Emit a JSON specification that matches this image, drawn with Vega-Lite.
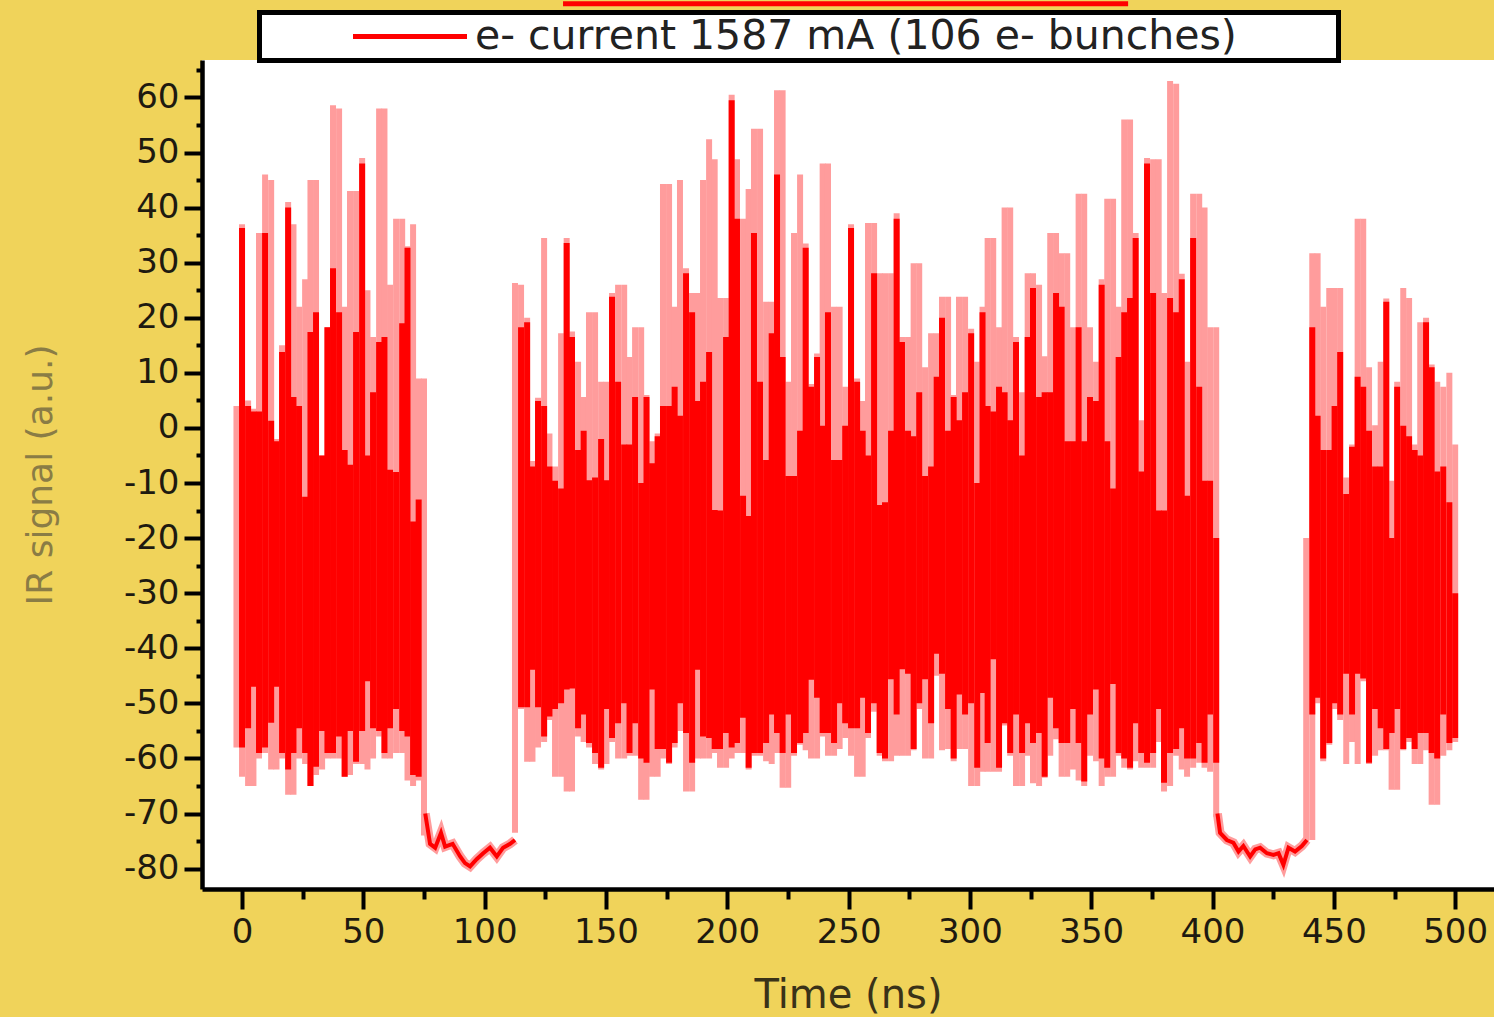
{
"$schema": "https://vega.github.io/schema/vega-lite/v6.json",
"width": 1292,
"height": 829,
"autosize": {"type": "none"},
"padding": {"left": 202, "top": 60, "right": 0, "bottom": 128},
"background": "#F0D35A",
"config": {
  "view": {"fill": "white", "stroke": null},
  "axis": {"grid": false, "domainColor": "black", "domainWidth": 4.5, "tickColor": "black", "tickWidth": 4, "labelFont": "DejaVu Sans", "labelFontSize": 34, "labelColor": "#1e1a10", "titleFont": "DejaVu Sans", "titleFontWeight": "normal"}
},
"datasets": {
"halo": [
{"t":-2.3,"lo":-58,"hi":4},{"t":0,"lo":-63.3,"hi":37},{"t":2.5,"lo":-65,"hi":5},{"t":4.7,"lo":-65,"hi":3.5},{"t":7,"lo":-60,"hi":35.4},{"t":9.5,"lo":-59,"hi":46},{"t":12,"lo":-62,"hi":45},{"t":14.2,"lo":-62,"hi":-2},{"t":16.5,"lo":-60,"hi":15},{"t":19,"lo":-66.6,"hi":41},{"t":21.2,"lo":-66.6,"hi":37},{"t":23.5,"lo":-60,"hi":22},{"t":26,"lo":-61,"hi":27},{"t":28.2,"lo":-65,"hi":45},{"t":30.5,"lo":-63,"hi":45},{"t":33,"lo":-62,"hi":-5},{"t":35.2,"lo":-60,"hi":18.3},{"t":37.5,"lo":-60,"hi":58.6},{"t":40,"lo":-60,"hi":58},{"t":42.3,"lo":-63.3,"hi":22},{"t":44.5,"lo":-63,"hi":43},{"t":47,"lo":-61,"hi":43},{"t":49.5,"lo":-61,"hi":49},{"t":51.7,"lo":-62,"hi":25},{"t":54,"lo":-60,"hi":16.5},{"t":56.5,"lo":-56,"hi":58},{"t":58.7,"lo":-60,"hi":58},{"t":61,"lo":-60,"hi":26},{"t":63.5,"lo":-59,"hi":38},{"t":66,"lo":-59,"hi":38},{"t":68.2,"lo":-64,"hi":33},{"t":70.5,"lo":-65,"hi":37},{"t":72.8,"lo":-64,"hi":9},{"t":75,"lo":-74,"hi":9},
{"t":112.5,"lo":-73.5,"hi":26.3},{"t":115,"lo":-51,"hi":26},{"t":117.5,"lo":-60.6,"hi":20},{"t":119.7,"lo":-60.6,"hi":-6},{"t":122,"lo":-58,"hi":5.5},{"t":124.5,"lo":-57,"hi":34.5},{"t":126.7,"lo":-53,"hi":-1},{"t":129,"lo":-63.3,"hi":-7},{"t":131.5,"lo":-63.3,"hi":17.2},{"t":133.8,"lo":-66,"hi":34.5},{"t":136,"lo":-66,"hi":17.5},{"t":138.5,"lo":-56,"hi":12},{"t":140.8,"lo":-57,"hi":5.6},{"t":143,"lo":-58,"hi":21},{"t":145.5,"lo":-61,"hi":21},{"t":148,"lo":-62,"hi":8.4},{"t":150.2,"lo":-61,"hi":8.4},{"t":152.5,"lo":-57,"hi":24.5},{"t":155,"lo":-60,"hi":26},{"t":157.5,"lo":-60,"hi":26},{"t":159.7,"lo":-59.5,"hi":12.9},{"t":162,"lo":-59.5,"hi":18.3},{"t":164.5,"lo":-67.5,"hi":18.3},{"t":166.7,"lo":-67.5,"hi":6},{"t":169,"lo":-63.3,"hi":-2.4},{"t":171.3,"lo":-63.3,"hi":-1},{"t":173.5,"lo":-60,"hi":44.3},{"t":176,"lo":-61,"hi":44.3},{"t":178.3,"lo":-58,"hi":22},{"t":180.5,"lo":-55,"hi":45},{"t":183,"lo":-66,"hi":29},{"t":185.5,"lo":-66,"hi":24.5},{"t":187.8,"lo":-60,"hi":24.5},{"t":190,"lo":-60,"hi":45},{"t":192.5,"lo":-60,"hi":52.4},{"t":194.8,"lo":-59,"hi":48.8},{"t":197,"lo":-61.7,"hi":23.6},{"t":199.5,"lo":-61.7,"hi":23.6},{"t":201.8,"lo":-60,"hi":60.5},{"t":204,"lo":-59,"hi":48.8},{"t":206.5,"lo":-59,"hi":38},{"t":208.8,"lo":-62,"hi":43.4},{"t":211,"lo":-59.5,"hi":54.3},{"t":213.5,"lo":-59.5,"hi":54.3},{"t":216,"lo":-60.5,"hi":22.9},{"t":218.3,"lo":-61,"hi":22.9},{"t":220.5,"lo":-59,"hi":61.3},{"t":222.8,"lo":-65.3,"hi":61.3},{"t":225.1,"lo":-65.3,"hi":8.4},{"t":227.5,"lo":-59.5,"hi":35.4},{"t":230,"lo":-57.5,"hi":46},{"t":232.3,"lo":-58.5,"hi":33.5},{"t":234.5,"lo":-60,"hi":8},{"t":237,"lo":-60,"hi":13.5},{"t":239.3,"lo":-56,"hi":48},{"t":241.5,"lo":-59.5,"hi":48},{"t":244,"lo":-59.5,"hi":22},{"t":246.3,"lo":-58.3,"hi":22},{"t":248.6,"lo":-56.3,"hi":7.5},{"t":251,"lo":-59.5,"hi":37},{"t":253.5,"lo":-63.3,"hi":9},{"t":255.8,"lo":-63.3,"hi":4.9},{"t":258,"lo":-56.3,"hi":37.2},{"t":260.5,"lo":-51.5,"hi":37.2},{"t":262.8,"lo":-59.5,"hi":28.1},{"t":265,"lo":-60.5,"hi":28.1},{"t":267.5,"lo":-60.5,"hi":28.1},{"t":269.8,"lo":-59.5,"hi":39},{"t":272,"lo":-59.5,"hi":16.5},{"t":274.5,"lo":-59.5,"hi":16.5},{"t":276.8,"lo":-58.5,"hi":29.9},{"t":279.1,"lo":-51,"hi":29.9},{"t":281.5,"lo":-60,"hi":11},{"t":284,"lo":-60,"hi":17.2},{"t":286.3,"lo":-45,"hi":17.2},{"t":288.5,"lo":-58.5,"hi":23.8},{"t":291,"lo":-58.3,"hi":23.8},{"t":293.3,"lo":-60.5,"hi":6},{"t":295.5,"lo":-58.3,"hi":23.8},{"t":298,"lo":-58.3,"hi":23.8},{"t":300.5,"lo":-65,"hi":18},{"t":303,"lo":-65,"hi":12},
{"t":305.2,"lo":-62.4,"hi":22},{"t":307.3,"lo":-62.4,"hi":34.5},{"t":309.6,"lo":-62.4,"hi":34.5},{"t":312,"lo":-62.4,"hi":18.3},{"t":314.3,"lo":-54,"hi":40},{"t":316.6,"lo":-59.5,"hi":40},{"t":319,"lo":-65,"hi":16.5},{"t":321.5,"lo":-65,"hi":6.5},{"t":323.8,"lo":-59.5,"hi":28.1},{"t":326,"lo":-64.5,"hi":28.1},{"t":328.5,"lo":-65,"hi":26},{"t":330.8,"lo":-63.5,"hi":13},{"t":333.1,"lo":-59.5,"hi":35.4},{"t":335.5,"lo":-56.5,"hi":35.4},{"t":337.8,"lo":-63.3,"hi":31.7},{"t":340.1,"lo":-63.3,"hi":31.7},{"t":342.5,"lo":-62,"hi":18.3},{"t":344.8,"lo":-64,"hi":42.5},{"t":347.1,"lo":-65,"hi":42.5},{"t":349.5,"lo":-59.5,"hi":18.3},{"t":352,"lo":-60.5,"hi":12},{"t":354.3,"lo":-65,"hi":27},{"t":356.6,"lo":-63.3,"hi":41.6},{"t":359,"lo":-63.3,"hi":41.6},{"t":361.3,"lo":-59.5,"hi":22},{"t":363.6,"lo":-61.7,"hi":56},{"t":366,"lo":-62,"hi":56},{"t":368.3,"lo":-60.5,"hi":35.4},{"t":370.6,"lo":-61.7,"hi":1.4},{"t":373,"lo":-61.7,"hi":49},{"t":375.5,"lo":-61.7,"hi":48.8},{"t":377.8,"lo":-57,"hi":48.8},{"t":380,"lo":-66,"hi":24.5},{"t":382.5,"lo":-65,"hi":63},{"t":385,"lo":-59.5,"hi":62.5},{"t":387.3,"lo":-62,"hi":28},{"t":389.5,"lo":-63.3,"hi":12},{"t":392,"lo":-61.7,"hi":42.5},{"t":394.5,"lo":-60.8,"hi":42.5},{"t":396.7,"lo":-61.7,"hi":40},{"t":399,"lo":-62.4,"hi":18.3},{"t":401.5,"lo":-70.6,"hi":18.3},
{"t":438.6,"lo":-75,"hi":-20},
{"t":441.1,"lo":-74.8,"hi":31.7},{"t":443.3,"lo":-50,"hi":31.7},{"t":445.6,"lo":-60.5,"hi":22},{"t":448.1,"lo":-57.5,"hi":25.4},{"t":450.3,"lo":-51,"hi":25.4},{"t":452.6,"lo":-53,"hi":25.4},{"t":455.1,"lo":-61,"hi":-9},{"t":457.5,"lo":-57,"hi":-3},{"t":459.8,"lo":-61,"hi":38},{"t":462.1,"lo":-46,"hi":38},{"t":464.5,"lo":-61,"hi":11},{"t":467,"lo":-59.5,"hi":0.5},{"t":469.3,"lo":-58.5,"hi":12},{"t":471.6,"lo":-58.5,"hi":23.5},{"t":473.8,"lo":-65.7,"hi":-9.6},{"t":476.1,"lo":-65.7,"hi":8.4},{"t":478.6,"lo":-58.5,"hi":25.4},{"t":481,"lo":-57,"hi":23.6},{"t":483.3,"lo":-61,"hi":-3},{"t":485.6,"lo":-61,"hi":19.2},{"t":488,"lo":-58.5,"hi":20},{"t":490.3,"lo":-68.4,"hi":11.5},{"t":492.6,"lo":-68.4,"hi":8.4},{"t":495.1,"lo":-59.5,"hi":7.5},{"t":497.6,"lo":-58.5,"hi":10},{"t":500,"lo":-57,"hi":-3}
],
"core": [
{"t":0,"lo":-58,"hi":36.3},{"t":2.5,"lo":-54.5,"hi":4},{"t":4.7,"lo":-47,"hi":3},{"t":7,"lo":-59,"hi":3},{"t":9.5,"lo":-58,"hi":35.4},{"t":12,"lo":-53.5,"hi":1.3},{"t":14.2,"lo":-47,"hi":-2.4},{"t":16.5,"lo":-59,"hi":13.8},{"t":19,"lo":-62,"hi":40},{"t":21.2,"lo":-59,"hi":5.6},{"t":23.5,"lo":-54.5,"hi":4},{"t":26,"lo":-59,"hi":-12.5},{"t":28.2,"lo":-65,"hi":17.4},{"t":30.5,"lo":-61.5,"hi":21},{"t":33,"lo":-55,"hi":-5},{"t":35.2,"lo":-59,"hi":18.3},{"t":37.5,"lo":-59,"hi":29},{"t":40,"lo":-56,"hi":21},{"t":42.3,"lo":-63.3,"hi":-4},{"t":44.5,"lo":-55,"hi":-6.7},{"t":47,"lo":-60.6,"hi":17.4},{"t":49.5,"lo":-55,"hi":48},{"t":51.7,"lo":-46,"hi":-5},{"t":54,"lo":-54.5,"hi":6.5},{"t":56.5,"lo":-55,"hi":15.6},{"t":58.7,"lo":-59,"hi":16.5},{"t":61,"lo":-54.5,"hi":-7.6},{"t":63.5,"lo":-51,"hi":-8},{"t":66,"lo":-55,"hi":19},{"t":68.2,"lo":-56,"hi":32.7},{"t":70.5,"lo":-63,"hi":-17},{"t":72.8,"lo":-63.3,"hi":-13},
{"t":115,"lo":-50.7,"hi":18.3},{"t":117.5,"lo":-50.7,"hi":19.2},{"t":119.7,"lo":-43.9,"hi":-7},{"t":122,"lo":-50.7,"hi":4.9},{"t":124.5,"lo":-56,"hi":4},{"t":126.7,"lo":-52.4,"hi":-7},{"t":129,"lo":-51,"hi":-9.6},{"t":131.5,"lo":-50,"hi":-11},{"t":133.8,"lo":-47.5,"hi":33.6},{"t":136,"lo":-47.3,"hi":16.5},{"t":138.5,"lo":-54.5,"hi":-4},{"t":140.8,"lo":-52,"hi":-0.5},{"t":143,"lo":-57.2,"hi":-9.5},{"t":145.5,"lo":-59,"hi":-9},{"t":148,"lo":-61.7,"hi":-2},{"t":150.2,"lo":-51,"hi":-9.5},{"t":152.5,"lo":-56.3,"hi":23.8},{"t":155,"lo":-53.6,"hi":8.4},{"t":157.5,"lo":-50,"hi":-3},{"t":159.7,"lo":-59,"hi":-3},{"t":162,"lo":-53.6,"hi":5.6},{"t":164.5,"lo":-60,"hi":-10},{"t":166.7,"lo":-60.8,"hi":5.6},{"t":169,"lo":-47.5,"hi":-6.4},{"t":171.3,"lo":-58.3,"hi":-1.5},{"t":173.5,"lo":-58.3,"hi":4},{"t":176,"lo":-60.8,"hi":4},{"t":178.3,"lo":-57.2,"hi":7.5},{"t":180.5,"lo":-50,"hi":2.2},{"t":183,"lo":-55.4,"hi":28.1},{"t":185.5,"lo":-60.8,"hi":21},{"t":187.8,"lo":-43.9,"hi":4.9},{"t":190,"lo":-56,"hi":8.4},{"t":192.5,"lo":-56.3,"hi":13.8},{"t":194.8,"lo":-58.3,"hi":-14.9},{"t":197,"lo":-58.3,"hi":-15},{"t":199.5,"lo":-55.4,"hi":16.5},{"t":201.8,"lo":-58,"hi":59.5},{"t":204,"lo":-57.2,"hi":38},{"t":206.5,"lo":-52.6,"hi":-12.3},{"t":208.8,"lo":-61.7,"hi":-16},{"t":211,"lo":-59,"hi":35.4},{"t":213.5,"lo":-59,"hi":8.4},{"t":216,"lo":-57.2,"hi":-5.8},{"t":218.3,"lo":-52,"hi":17.2},{"t":220.5,"lo":-55.4,"hi":46},{"t":222.8,"lo":-59,"hi":12.9},{"t":225.1,"lo":-52,"hi":-8.7},{"t":227.5,"lo":-59,"hi":-8.7},{"t":230,"lo":-57.2,"hi":-0.5},{"t":232.3,"lo":-55.4,"hi":32.7},{"t":234.5,"lo":-45.7,"hi":7.5},{"t":237,"lo":-49,"hi":12.9},{"t":239.3,"lo":-55.4,"hi":0.4},{"t":241.5,"lo":-55.4,"hi":21},{"t":244,"lo":-57.2,"hi":-5.8},{"t":246.3,"lo":-50,"hi":-5.8},{"t":248.6,"lo":-53.6,"hi":0.4},{"t":251,"lo":-54.5,"hi":36.3},{"t":253.5,"lo":-54.5,"hi":8.4},{"t":255.8,"lo":-49,"hi":-0.5},{"t":258,"lo":-55.4,"hi":-5},{"t":260.5,"lo":-50,"hi":28.1},{"t":262.8,"lo":-59,"hi":-14},{"t":265,"lo":-60,"hi":-13.5},{"t":267.5,"lo":-45.6,"hi":-0.5},{"t":269.8,"lo":-52,"hi":38},{"t":272,"lo":-43.8,"hi":15.6},{"t":274.5,"lo":-44.6,"hi":-0.5},{"t":276.8,"lo":-58.3,"hi":-1.5},{"t":279.1,"lo":-50,"hi":6.5},{"t":281.5,"lo":-45.6,"hi":-8.7},{"t":284,"lo":-53.6,"hi":-7},{"t":286.3,"lo":-41,"hi":9.3},{"t":288.5,"lo":-44.6,"hi":20},{"t":291,"lo":-51,"hi":-0.5},{"t":293.3,"lo":-60,"hi":5.6},{"t":295.5,"lo":-48.4,"hi":1.4},{"t":298,"lo":-52,"hi":6.5},{"t":300.5,"lo":-50,"hi":17.2},{"t":303,"lo":-61.7,"hi":-10},
{"t":305.2,"lo":-48.1,"hi":21},{"t":307.3,"lo":-57.2,"hi":4},{"t":309.6,"lo":-42,"hi":3},{"t":312,"lo":-61.7,"hi":7.5},{"t":314.3,"lo":-53.6,"hi":6.5},{"t":316.6,"lo":-59,"hi":1.4},{"t":319,"lo":-52,"hi":15.6},{"t":321.5,"lo":-59,"hi":-5},{"t":323.8,"lo":-53.6,"hi":16.5},{"t":326,"lo":-57.2,"hi":25.4},{"t":328.5,"lo":-55.4,"hi":5.6},{"t":330.8,"lo":-63.3,"hi":6.5},{"t":333.1,"lo":-49,"hi":6.5},{"t":335.5,"lo":-54.5,"hi":24.5},{"t":337.8,"lo":-57.2,"hi":22},{"t":340.1,"lo":-57.2,"hi":-2.4},{"t":342.5,"lo":-51,"hi":-2.4},{"t":344.8,"lo":-57.2,"hi":18.3},{"t":347.1,"lo":-64.2,"hi":-2.4},{"t":349.5,"lo":-52,"hi":5.6},{"t":352,"lo":-47.5,"hi":4.9},{"t":354.3,"lo":-60,"hi":26},{"t":356.6,"lo":-61.7,"hi":-2.4},{"t":359,"lo":-46.5,"hi":-11},{"t":361.3,"lo":-59,"hi":12.9},{"t":363.6,"lo":-60,"hi":21},{"t":366,"lo":-61.7,"hi":23.6},{"t":368.3,"lo":-53.6,"hi":34.5},{"t":370.6,"lo":-59,"hi":-7.9},{"t":373,"lo":-60.8,"hi":48},{"t":375.5,"lo":-59,"hi":24.5},{"t":377.8,"lo":-51,"hi":-15},{"t":380,"lo":-64.4,"hi":-15},{"t":382.5,"lo":-59,"hi":23.6},{"t":385,"lo":-58.3,"hi":21},{"t":387.3,"lo":-54.5,"hi":27},{"t":389.5,"lo":-60,"hi":-12.3},{"t":392,"lo":-60,"hi":34.5},{"t":394.5,"lo":-57.2,"hi":7.5},{"t":396.7,"lo":-60.8,"hi":-9.6},{"t":399,"lo":-52,"hi":-9.6},{"t":401.5,"lo":-60.8,"hi":-20},
{"t":441.1,"lo":-52,"hi":18.3},{"t":443.3,"lo":-49,"hi":2.2},{"t":445.6,"lo":-60,"hi":-4},{"t":448.1,"lo":-57.2,"hi":-4},{"t":450.3,"lo":-50,"hi":4},{"t":452.6,"lo":-52,"hi":13.8},{"t":455.1,"lo":-44.6,"hi":-12},{"t":457.5,"lo":-52,"hi":-3.4},{"t":459.8,"lo":-44.6,"hi":9.3},{"t":462.1,"lo":-45.5,"hi":7.5},{"t":464.5,"lo":-60.8,"hi":-0.5},{"t":467,"lo":-51,"hi":-7},{"t":469.3,"lo":-54.5,"hi":-7},{"t":471.6,"lo":-58.3,"hi":22.9},{"t":473.8,"lo":-55.4,"hi":-20},{"t":476.1,"lo":-51,"hi":7.5},{"t":478.6,"lo":-58.3,"hi":0.4},{"t":481,"lo":-56.3,"hi":-1.5},{"t":483.3,"lo":-58.3,"hi":-4},{"t":485.6,"lo":-55.4,"hi":-5},{"t":488,"lo":-55.4,"hi":19.2},{"t":490.3,"lo":-59,"hi":11},{"t":492.6,"lo":-60,"hi":-7.9},{"t":495.1,"lo":-52,"hi":-7},{"t":497.6,"lo":-57.2,"hi":-13.5},{"t":500,"lo":-56.3,"hi":-30}
],
"gap": [
{"seg":"a","t":75.5,"v":-70},{"seg":"a","t":77.5,"v":-75.5},{"seg":"a","t":79.6,"v":-76.2},{"seg":"a","t":82,"v":-73.5},{"seg":"a","t":83.7,"v":-76},{"seg":"a","t":86.8,"v":-75.5},{"seg":"a","t":89.9,"v":-77.8},{"seg":"a","t":91.9,"v":-79},{"seg":"a","t":94,"v":-79.6},{"seg":"a","t":96.7,"v":-78.3},{"seg":"a","t":99.4,"v":-77.2},{"seg":"a","t":102.2,"v":-76.2},{"seg":"a","t":105,"v":-77.8},{"seg":"a","t":107.6,"v":-76.2},{"seg":"a","t":110.5,"v":-75.5},{"seg":"a","t":112.5,"v":-74.8},
{"seg":"b","t":402,"v":-70},{"seg":"b","t":403.1,"v":-73.5},{"seg":"b","t":405.9,"v":-74.8},{"seg":"b","t":408.6,"v":-75.3},{"seg":"b","t":410.7,"v":-76.9},{"seg":"b","t":412.7,"v":-75.9},{"seg":"b","t":415.5,"v":-77.8},{"seg":"b","t":417.6,"v":-76.5},{"seg":"b","t":419.6,"v":-76.2},{"seg":"b","t":422.4,"v":-77.2},{"seg":"b","t":425.1,"v":-77.5},{"seg":"b","t":427.2,"v":-77.2},{"seg":"b","t":429.2,"v":-79.3},{"seg":"b","t":431.3,"v":-76.2},{"seg":"b","t":434,"v":-76.9},{"seg":"b","t":436.8,"v":-75.9},{"seg":"b","t":438.9,"v":-74.8}
],
"topbar": [{"t":132.3,"t2":365.2,"v":77}]
},
"layer": [
{
  "data": {"name": "halo"},
  "mark": {"type": "rule", "strokeWidth": 6, "color": "#FF9C9C"},
  "encoding": {
    "x": {"field": "t", "type": "quantitative", "scale": {"domain": [-16.5, 516], "nice": false, "zero": false},
      "axis": {"orient": "bottom", "values": [0,50,100,150,200,250,300,350,400,450,500], "tickSize": 20, "labelPadding": 6, "title": "Time (ns)", "titleFontSize": 40, "titleColor": "#3a3218", "titlePadding": 26}},
    "y": {"field": "lo", "type": "quantitative", "scale": {"domain": [-83.7, 66.8], "nice": false, "zero": false},
      "axis": {"orient": "left", "values": [-80,-70,-60,-50,-40,-30,-20,-10,0,10,20,30,40,50,60], "tickSize": 18, "labelPadding": 5, "labelExpr": "datum.value < 0 ? '-' + abs(datum.value) : '' + datum.value", "title": "IR signal (a.u.)", "titleFontSize": 36, "titleColor": "#8a7c45", "titlePadding": 64}},
    "y2": {"field": "hi"}
  }
},
{
  "data": {"name": "core"},
  "mark": {"type": "rule", "strokeWidth": 6},
  "encoding": {
    "x": {"field": "t", "type": "quantitative",
      "axis": {"orient": "bottom", "values": [25,75,125,175,225,275,325,375,425,475], "tickSize": 10, "labels": false, "domain": false, "title": null}},
    "y": {"field": "lo", "type": "quantitative",
      "axis": {"orient": "left", "values": [-75,-65,-55,-45,-35,-25,-15,-5,5,15,25,35,45,55,65], "tickSize": 6, "labels": false, "domain": false, "title": null}},
    "y2": {"field": "hi"},
    "color": {"datum": "e- current 1587 mA (106 e- bunches)", "type": "nominal", "scale": {"range": ["#FF0000"]},
      "legend": {"orient": "none", "legendX": 57.5, "legendY": -47.5, "title": "\u00a0", "titleOrient": "right", "titlePadding": 98, "titleFontSize": 10, "fillColor": "white", "strokeColor": "black", "padding": 4, "symbolType": "stroke", "symbolSize": 12996, "symbolStrokeWidth": 5, "symbolOffset": 87, "labelOffset": 5.5, "clipHeight": 40, "labelFont": "DejaVu Sans", "labelFontSize": 41, "labelColor": "#222222", "labelLimit": 3000,
        "encode": {"legend": {"update": {"strokeWidth": {"value": 5}}}}}}
  }
},
{
  "data": {"name": "gap"},
  "mark": {"type": "line", "strokeWidth": 9, "color": "#FF9C9C"},
  "encoding": {
    "x": {"field": "t", "type": "quantitative", "axis": null},
    "y": {"field": "v", "type": "quantitative", "axis": null},
    "detail": {"field": "seg"}
  }
},
{
  "data": {"name": "gap"},
  "mark": {"type": "line", "strokeWidth": 4, "color": "#FF0000"},
  "encoding": {
    "x": {"field": "t", "type": "quantitative", "axis": null},
    "y": {"field": "v", "type": "quantitative", "axis": null},
    "detail": {"field": "seg"}
  }
},
{
  "data": {"name": "topbar"},
  "mark": {"type": "rule", "strokeWidth": 5, "color": "#FF0000", "clip": false},
  "encoding": {
    "x": {"field": "t", "type": "quantitative", "axis": null},
    "x2": {"field": "t2"},
    "y": {"field": "v", "type": "quantitative", "axis": null}
  }
}
],
"resolve": {"axis": {"x": "independent", "y": "independent"}}
}
